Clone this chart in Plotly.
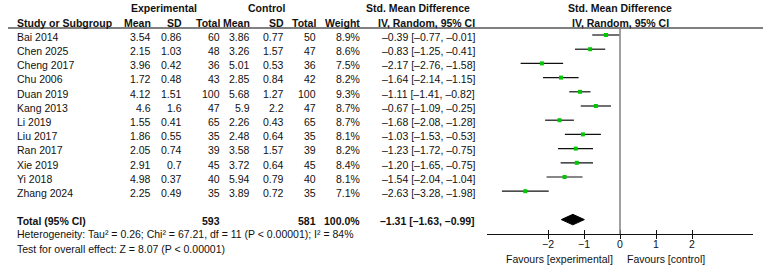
import plotly.graph_objects as go

# ---------------- data ----------------
studies = ["Bai 2014", "Chen 2025", "Cheng 2017", "Chu 2006", "Duan 2019", "Kang 2013",
           "Li 2019", "Liu 2017", "Ran 2017", "Xie 2019", "Yi 2018", "Zhang 2024"]
exp_mean = ["3.54", "2.15", "3.96", "1.72", "4.12", "4.6", "1.55", "1.86", "2.05", "2.91", "4.98", "2.25"]
exp_sd = ["0.86", "1.03", "0.42", "0.48", "1.51", "1.6", "0.41", "0.55", "0.74", "0.7", "0.37", "0.49"]
exp_n = [60, 48, 36, 43, 100, 47, 65, 35, 39, 45, 40, 35]
ctl_mean = ["3.86", "3.26", "5.01", "2.85", "5.68", "5.9", "2.26", "2.48", "3.58", "3.72", "5.94", "3.89"]
ctl_sd = ["0.77", "1.57", "0.53", "0.84", "1.27", "2.2", "0.43", "0.64", "1.57", "0.64", "0.79", "0.72"]
ctl_n = [50, 47, 36, 42, 100, 47, 65, 35, 39, 45, 40, 35]
weight = [8.9, 8.6, 7.5, 8.2, 9.3, 8.7, 8.7, 8.1, 8.2, 8.4, 8.1, 7.1]
smd = [-0.39, -0.83, -2.17, -1.64, -1.11, -0.67, -1.68, -1.03, -1.23, -1.20, -1.54, -2.63]
ci_lo = [-0.77, -1.25, -2.76, -2.14, -1.41, -1.09, -2.08, -1.53, -1.72, -1.65, -2.04, -3.28]
ci_hi = [-0.01, -0.41, -1.58, -1.15, -0.82, -0.25, -1.28, -0.53, -0.75, -0.75, -1.04, -1.98]

total_exp = 593
total_ctl = 581
total_weight = 100.0
total_smd = -1.31
total_lo = -1.63
total_hi = -0.99

tick_vals = [-2, -1, 0, 1, 2]
heterogeneity = "Heterogeneity: Tau\u00b2 = 0.26; Chi\u00b2 = 67.21, df = 11 (P < 0.00001); I\u00b2 = 84%"
overall = "Test for overall effect: Z = 8.07 (P < 0.00001)"

# ---------------- layout helpers ----------------
W, H = 768, 268
FONT = "Liberation Sans, Arial, sans-serif"
FS = 10.5
TXT = "#111111"
ROW0, ROWH = 35.0, 14.2


def row_of(py):
    return (py - ROW0) / ROWH


def fmt(v):
    return f"{v:.2f}".replace("-", "\u2013")


def ci_text(e, l, h):
    return f"{fmt(e)} [{fmt(l)}, {fmt(h)}]"


annotations = []


def txt(px, row, text, anchor="right", bold=False, size=FS):
    if bold:
        text = f"<b>{text}</b>"
    annotations.append(dict(
        x=px / W, xref="paper", y=row, yref="y", text=text, showarrow=False,
        xanchor=anchor, yanchor="middle", font=dict(family=FONT, size=size, color=TXT)))


rows = list(range(len(studies)))
TEXT_DY = 0.12
total_row = len(studies) + 1
axis_row = row_of(234)

# column right edges (px)
C_STUDY, C_EM, C_ESD, C_EN, C_CM, C_CSD, C_CN, C_W, C_CI = 15, 153, 184, 222, 252, 286, 318, 362, 477

# headers
txt(164, row_of(8), "Experimental", "center", True)
txt(266, row_of(8), "Control", "center", True)
txt(472, row_of(8), "Std. Mean Difference", "right", True)
txt(620, row_of(8), "Std. Mean Difference", "center", True)
hr = row_of(23)
txt(C_STUDY, hr, "Study or Subgroup", "left", True)
for px, lab in [(C_EM, "Mean"), (C_ESD, "SD"), (C_EN, "Total"), (C_CM, "Mean"),
                (C_CSD, "SD"), (C_CN, "Total"), (C_W, "Weight"), (C_CI, "IV, Random, 95% CI")]:
    txt(px, hr, lab, "right", True)
txt(620, hr, "IV, Random, 95% CI", "center", True)

for i in rows:
    r = i + TEXT_DY
    txt(C_STUDY, r, studies[i], "left")
    txt(C_EM, r, exp_mean[i])
    txt(C_ESD, r, exp_sd[i])
    txt(C_EN, r, str(exp_n[i]))
    txt(C_CM, r, ctl_mean[i])
    txt(C_CSD, r, ctl_sd[i])
    txt(C_CN, r, str(ctl_n[i]))
    txt(C_W, r, f"{weight[i]:.1f}%")
    txt(C_CI, r, ci_text(smd[i], ci_lo[i], ci_hi[i]))

tr = total_row + TEXT_DY
txt(C_STUDY, tr, "Total (95% CI)", "left", True)
txt(C_EN, tr, str(total_exp), "right", True)
txt(C_CN, tr, str(total_ctl), "right", True)
txt(C_W, tr, f"{total_weight:.1f}%", "right", True)
txt(C_CI, tr, ci_text(total_smd, total_lo, total_hi), "right", True)
txt(C_STUDY, row_of(234), heterogeneity, "left")
txt(C_STUDY, row_of(249), overall, "left")

txt(615, row_of(258.5), "Favours [experimental]", "right")
txt(625, row_of(258.5), "Favours [control]", "left")

# ---------------- figure ----------------
fig = go.Figure()

fig.add_trace(go.Scatter(
    x=smd, y=rows, mode="markers",
    marker=dict(symbol="square", size=4, color="#00c800", line=dict(width=0)),
    error_x=dict(type="data", symmetric=False,
                 array=[h - e for h, e in zip(ci_hi, smd)],
                 arrayminus=[e - l for e, l in zip(smd, ci_lo)],
                 width=0, thickness=1.2, color="#111111"),
    hoverinfo="skip", showlegend=False))

dh = 0.37
fig.add_trace(go.Scatter(
    x=[total_lo, total_smd, total_hi, total_smd, total_lo],
    y=[total_row, total_row - dh, total_row, total_row + dh, total_row],
    mode="lines", fill="toself", fillcolor="#000000",
    line=dict(color="#000000", width=1), hoverinfo="skip", showlegend=False))

# invisible trace so the overlay axis is rendered
fig.add_trace(go.Scatter(x=[0], y=[axis_row], xaxis="x2", mode="markers",
                         marker=dict(opacity=0), hoverinfo="skip", showlegend=False))

half = 133 / 36
dom = [487 / W, 753 / W]
pos = 1 - 234 / H

shapes = [
    dict(type="line", xref="paper", yref="y", x0=8 / W, x1=763 / W, y0=-0.5, y1=-0.5,
         line=dict(color="#808080", width=2)),
    dict(type="line", xref="x", yref="y", x0=0, x1=0, y0=-0.5, y1=axis_row,
         line=dict(color="#808080", width=1.5)),
]

fig.update_layout(
    width=W, height=H, margin=dict(l=0, r=0, t=0, b=0),
    paper_bgcolor="white", plot_bgcolor="rgba(0,0,0,0)",
    font=dict(family=FONT, size=FS, color=TXT),
    xaxis=dict(domain=dom, range=[-half, half], anchor="free", position=pos,
               showline=True, linecolor="#111111", linewidth=1,
               ticks="inside", ticklen=4, tickwidth=1, tickcolor="#111111",
               tickvals=tick_vals, showgrid=False, zeroline=False,
               tickfont=dict(family=FONT, size=FS, color=TXT), fixedrange=True),
    xaxis2=dict(domain=dom, range=[-half, half], anchor="free", position=pos,
                overlaying="x", side="bottom", showline=False, ticks="outside", ticklen=4,
                tickwidth=1, tickcolor="#111111", tickvals=tick_vals, showticklabels=False,
                showgrid=False, zeroline=False, fixedrange=True),
    yaxis=dict(domain=[0, 1], range=[row_of(H), row_of(0)], visible=False,
               showgrid=False, zeroline=False, fixedrange=True),
    shapes=shapes, annotations=annotations,
)

fig.write_html("out.html")
